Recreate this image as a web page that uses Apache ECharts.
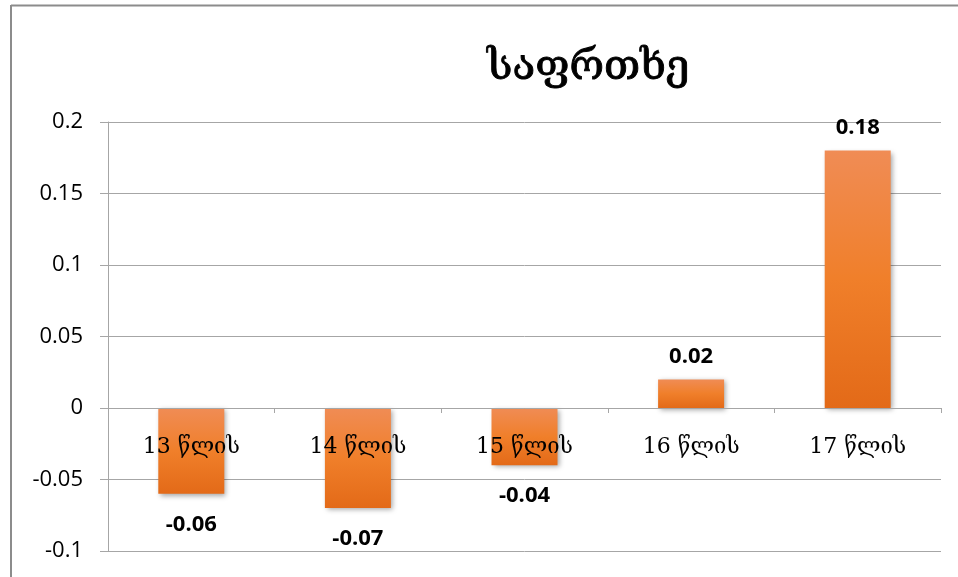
<!DOCTYPE html>
<html>
<head>
<meta charset="utf-8">
<script src="https://cdn.jsdelivr.net/npm/echarts@6/dist/echarts.min.js"></script>
<style>html,body{margin:0;padding:0;background:#fff}#c{width:958px;height:577px}</style>
</head>
<body>
<div id="c"></div>
<script>
const titleText = 'საფრთხე';
const categories = ['13 წლის', '14 წლის', '15 წლის', '16 წლის', '17 წლის'];
const values = [-0.06, -0.07, -0.04, 0.02, 0.18];
const yTicks = { min: -0.1, max: 0.2, interval: 0.05 };

const chart = echarts.init(document.getElementById('c'));
const numFont = '"Open Sans", Lato, sans-serif';
const geoFont = '"DejaVu Serif", "Liberation Serif", serif';

const gridTop = 122, gridBottom = 26, H = 577;
const plotH = H - gridTop - gridBottom;
const zeroOffset = -plotH * (0 - yTicks.min) / (yTicks.max - yTicks.min);

chart.setOption({
  animation: false,
  backgroundColor: '#fff',
  title: {
    text: titleText,
    left: 482,
    top: 42,
    textStyle: { fontFamily: geoFont, fontSize: 42, fontWeight: 'normal', color: '#000',
      textBorderColor: '#000', textBorderWidth: 0.9 }
  },
  grid: { left: 108, right: 17, top: gridTop, bottom: gridBottom, containLabel: false, outerBoundsMode: 'none' },
  graphic: [
    { type: 'line', shape: { x1: 11, y1: 5.5, x2: 958, y2: 5.5 }, style: { stroke: '#8c8c8c', lineWidth: 2 } },
    { type: 'line', shape: { x1: 11, y1: 5, x2: 11, y2: 577 }, style: { stroke: '#8c8c8c', lineWidth: 2 } }
  ],
  xAxis: {
    type: 'category',
    data: categories,
    z: 10,
    position: 'bottom',
    offset: zeroOffset,
    axisLine: { onZero: false, lineStyle: { color: '#a6a6a6', width: 1 } },
    axisTick: { show: true, length: 5, lineStyle: { color: '#a6a6a6' } },
    axisLabel: { margin: 28, fontFamily: geoFont, fontSize: 22, color: '#000' }
  },
  yAxis: {
    type: 'value',
    min: yTicks.min,
    max: yTicks.max,
    interval: yTicks.interval,
    axisLine: { show: true, lineStyle: { color: '#a6a6a6' } },
    axisTick: { show: true, length: 8, lineStyle: { color: '#a6a6a6' } },
    splitLine: { lineStyle: { color: '#a6a6a6', width: 1 } },
    axisLabel: {
      margin: 25, fontFamily: numFont, fontSize: 22, color: '#000',
      formatter: v => String(parseFloat(v.toFixed(2)))
    }
  },
  series: [{
    type: 'bar',
    barWidth: 66,
    data: values.map(v => ({
      value: v,
      label: { position: v < 0 ? 'bottom' : 'top', distance: v < 0 ? 20 : 12 }
    })),
    itemStyle: {
      color: new echarts.graphic.LinearGradient(0, 0, 0, 1, [
        { offset: 0, color: '#f08c55' },
        { offset: 0.5, color: '#f07f2a' },
        { offset: 1, color: '#e36a18' }
      ]),
      shadowBlur: 5,
      shadowColor: 'rgba(0,0,0,0.35)',
      shadowOffsetX: 2,
      shadowOffsetY: 2
    },
    label: {
      show: true,
      fontFamily: numFont,
      fontWeight: 'bold',
      fontSize: 22,
      color: '#000',
      formatter: p => p.value.toFixed(2)
    }
  }]
});
</script>
</body>
</html>
